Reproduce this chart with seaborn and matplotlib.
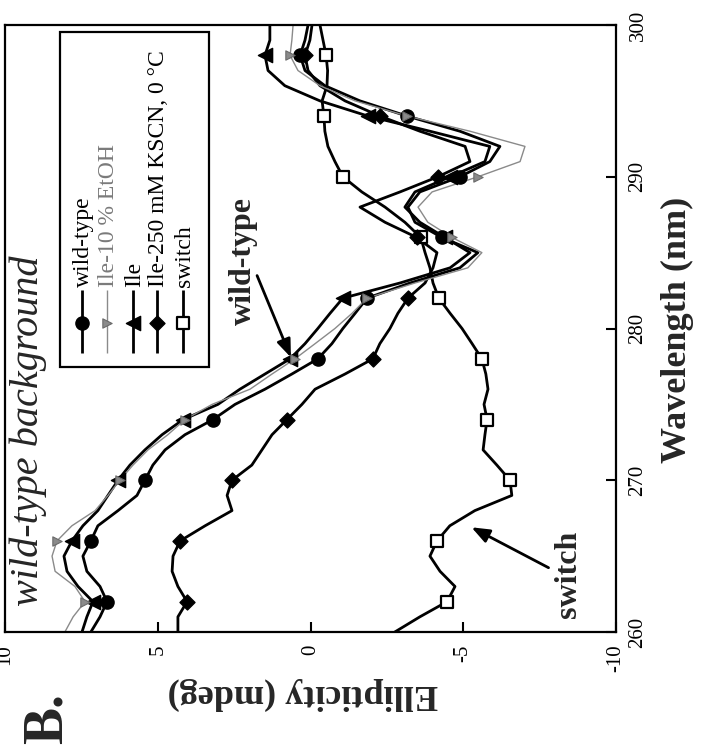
import matplotlib
matplotlib.use("Agg")
import matplotlib.pyplot as plt
import numpy as np
import pandas as pd
import seaborn as sns
from matplotlib.patches import Rectangle

# CD spectra (ellipticity in mdeg) sampled every nm
wavelength = list(range(260, 301))
wild_type = [7.19, 6.89, 6.66, 6.89, 7.32, 7.45, 7.19, 6.96, 6.30, 5.68,
             5.42, 5.16, 4.76, 4.11, 3.19, 2.47, 1.49, 0.61, -0.24, -0.70,
             -1.06, -1.46, -1.85, -3.26, -4.89, -5.48, -4.30, -3.42, -3.19, -3.58,
             -4.89, -5.87, -6.20, -4.89, -3.16, -1.62, -0.47, 0.18, 0.34, 0.18,
             0.08]
ile_etoh = [8.04, 7.77, 7.38, 7.71, 8.36, 8.46, 8.30, 7.81, 7.05, 6.63,
            6.24, 5.81, 5.32, 4.67, 4.11, 3.22, 1.98, 1.26, 0.51, -0.15,
            -0.80, -1.36, -1.85, -3.42, -5.15, -5.61, -4.63, -3.84, -3.52, -3.98,
            -5.48, -6.86, -7.02, -5.22, -3.16, -1.46, -0.31, 0.41, 0.67, 0.61,
            0.57]
ile = [7.48, 7.32, 7.12, 7.61, 7.97, 8.07, 7.81, 7.45, 6.96, 6.63,
       6.30, 5.91, 5.42, 4.86, 4.17, 3.03, 2.31, 1.49, 0.67, 0.18,
       -0.24, -0.64, -1.06, -2.93, -4.57, -5.22, -4.40, -3.58, -3.09, -3.42,
       -4.57, -5.71, -5.87, -3.91, -1.88, -0.31, 0.84, 1.39, 1.49, 1.33,
       1.33]
ile_kscn = [4.34, 4.34, 4.04, 4.34, 4.53, 4.50, 4.27, 3.45, 2.57, 2.73,
            2.57, 1.92, 1.59, 1.26, 0.77, 0.28, -0.15, -1.13, -2.04, -2.27,
            -2.60, -2.86, -3.19, -3.75, -4.01, -4.14, -3.48, -2.44, -1.62, -2.93,
            -4.17, -5.22, -5.06, -3.58, -2.27, -1.13, -0.31, 0.08, 0.18, 0.02,
            -0.05]
switch = [-2.76, -3.58, -4.47, -4.73, -4.24, -3.91, -4.14, -4.56, -5.38, -6.59,
          -6.53, -6.10, -5.65, -5.71, -5.78, -5.68, -5.81, -5.74, -5.61, -5.29,
          -4.96, -4.57, -4.20, -4.01, -3.91, -3.75, -3.61, -3.09, -2.44, -1.68,
          -1.06, -0.80, -0.57, -0.47, -0.44, -0.38, -0.54, -0.56, -0.51, -0.41,
          -0.31]
marker_wavelengths = [262, 266, 270, 274, 278, 282, 286, 290, 294, 298]

series_names = ["wild-type", "Ile-10 % EtOH", "Ile", "Ile-250 mM KSCN, 0 °C", "switch"]
ellipticity_ticks = [10, 5, 0, -5, -10]
wavelength_ticks = [260, 270, 280, 290, 300]

sns.set_theme(style="ticks")
plt.rcParams["font.family"] = ["Liberation Serif", "DejaVu Serif"]

frames = []
for name, vals in zip(series_names, [wild_type, ile_etoh, ile, ile_kscn, switch]):
    frames.append(pd.DataFrame({"sample": name, "wavelength": wavelength, "ellipticity": vals}))
df = pd.concat(frames, ignore_index=True)
marks = df[df["wavelength"].isin(marker_wavelengths)]

styles = {
    "wild-type": dict(color="black", lw=2.0, marker="o", ms=90, mfc="black", mec="black", mew=1.0),
    "Ile-10 % EtOH": dict(color="#8a8a8a", lw=1.0, marker=">", ms=45, mfc="#8a8a8a", mec="#6a6a6a", mew=0.8),
    "Ile": dict(color="black", lw=2.0, marker="<", ms=105, mfc="black", mec="black", mew=1.0),
    "Ile-250 mM KSCN, 0 °C": dict(color="black", lw=2.0, marker="D", ms=58, mfc="black", mec="black", mew=1.0),
    "switch": dict(color="black", lw=2.0, marker="s", ms=75, mfc="white", mec="black", mew=1.6),
}

fig = plt.figure(figsize=(7.07, 7.54), dpi=100)
ax = fig.add_axes([5 / 707, 1 - 632 / 754, 611 / 707, 607 / 754])

draw_order = ["switch", "Ile-250 mM KSCN, 0 °C", "wild-type", "Ile", "Ile-10 % EtOH"]
for name in draw_order:
    st = styles[name]
    sub = df[df["sample"] == name]
    sns.lineplot(data=sub, x="ellipticity", y="wavelength", sort=False, estimator=None,
                 color=st["color"], lw=st["lw"], ax=ax, zorder=2)
    msub = marks[marks["sample"] == name]
    sns.scatterplot(data=msub, x="ellipticity", y="wavelength", marker=st["marker"],
                    s=st["ms"], color=st["mfc"], edgecolor=st["mec"], linewidth=st["mew"],
                    ax=ax, zorder=3, legend=False)

ax.set_xlim(10, -10)
ax.set_ylim(260, 300)
ax.set_xticks(ellipticity_ticks)
ax.set_xticklabels([str(t) for t in ellipticity_ticks])
ax.set_yticks(wavelength_ticks)
ax.yaxis.tick_right()
ax.yaxis.set_label_position("right")
ax.tick_params(axis="both", direction="in", length=7, width=1.5, colors="black",
               labelsize=15, pad=9)
ax.tick_params(axis="x", labelrotation=90)
ax.tick_params(axis="y", labelrotation=90, left=False, right=True)
for lab in ax.get_yticklabels():
    lab.set_va("center")
    lab.set_ha("left")
for sp in ax.spines.values():
    sp.set_linewidth(1.6)
    sp.set_color("black")

ax.set_xlabel("Ellipticity (mdeg)", fontsize=26, fontweight="bold", rotation=180)
ax.xaxis.label.set_va("center")
ax.xaxis.set_label_coords((303 - 5) / 611, (632 - 694) / 607)
ax.set_ylabel("Wavelength (nm)", fontsize=26, fontweight="bold", rotation=90)
ax.yaxis.label.set_va("center")
ax.yaxis.label.set_ha("center")
ax.yaxis.set_label_coords((677 - 5) / 611, (632 - 330) / 607)


def axpos(px, py):
    return (px - 5) / 611, (632 - py) / 607


# legend box
x0, y0 = axpos(60, 367)
x1, y1 = axpos(209, 32)
ax.add_patch(Rectangle((x0, y0), x1 - x0, y1 - y0, transform=ax.transAxes,
                       facecolor="white", edgecolor="black", lw=1.6, zorder=5))
legend_x = [82, 107, 133, 157, 183]
for name, lx in zip(series_names, legend_x):
    st = styles[name]
    xa, ya0 = axpos(lx, 353)
    _, ya1 = axpos(lx, 290)
    _, ym = axpos(lx, 323)
    ax.plot([xa, xa], [ya0, ya1], transform=ax.transAxes, color=st["color"],
            lw=st["lw"], zorder=6, solid_capstyle="butt")
    ax.scatter([xa], [ym], transform=ax.transAxes, marker=st["marker"], s=st["ms"],
               color=st["mfc"], edgecolors=st["mec"], linewidths=st["mew"], zorder=7)
    _, yt = axpos(lx, 287)
    ax.text(xa + 0.002, yt, name, transform=ax.transAxes, rotation=90, rotation_mode="anchor",
            ha="left", va="center", fontsize=17,
            color="#7a7a7a" if name == "Ile-10 % EtOH" else "black", zorder=7)

# panel annotations
tx, ty = axpos(38, 606)
ax.text(tx, ty, "wild-type background", transform=ax.transAxes, rotation=90,
        rotation_mode="anchor", ha="left", va="baseline", fontsize=29, style="italic", zorder=4)

tx, ty = axpos(251, 325)
ax.text(tx, ty, "wild-type", transform=ax.transAxes, rotation=90, rotation_mode="anchor",
        ha="left", va="baseline", fontsize=23, fontweight="bold", zorder=4)
ax.annotate("", xy=axpos(292, 360), xytext=axpos(256, 273), xycoords="axes fraction",
            textcoords="axes fraction",
            arrowprops=dict(arrowstyle="-|>,head_length=0.9,head_width=0.35", lw=2.0, color="black"),
            zorder=4)

tx, ty = axpos(576, 618)
ax.text(tx, ty, "switch", transform=ax.transAxes, rotation=90, rotation_mode="anchor",
        ha="left", va="baseline", fontsize=23, fontweight="bold", zorder=4)
ax.annotate("", xy=axpos(469, 526), xytext=axpos(551, 569), xycoords="axes fraction",
            textcoords="axes fraction",
            arrowprops=dict(arrowstyle="-|>,head_length=0.9,head_width=0.35", lw=2.0, color="black"),
            zorder=4)

fig.text(62 / 707, 1 - 744 / 754, "B.", rotation=90, rotation_mode="anchor", ha="left",
         va="baseline", fontsize=40, fontweight="bold")

fig.savefig("out.png", dpi=100)
